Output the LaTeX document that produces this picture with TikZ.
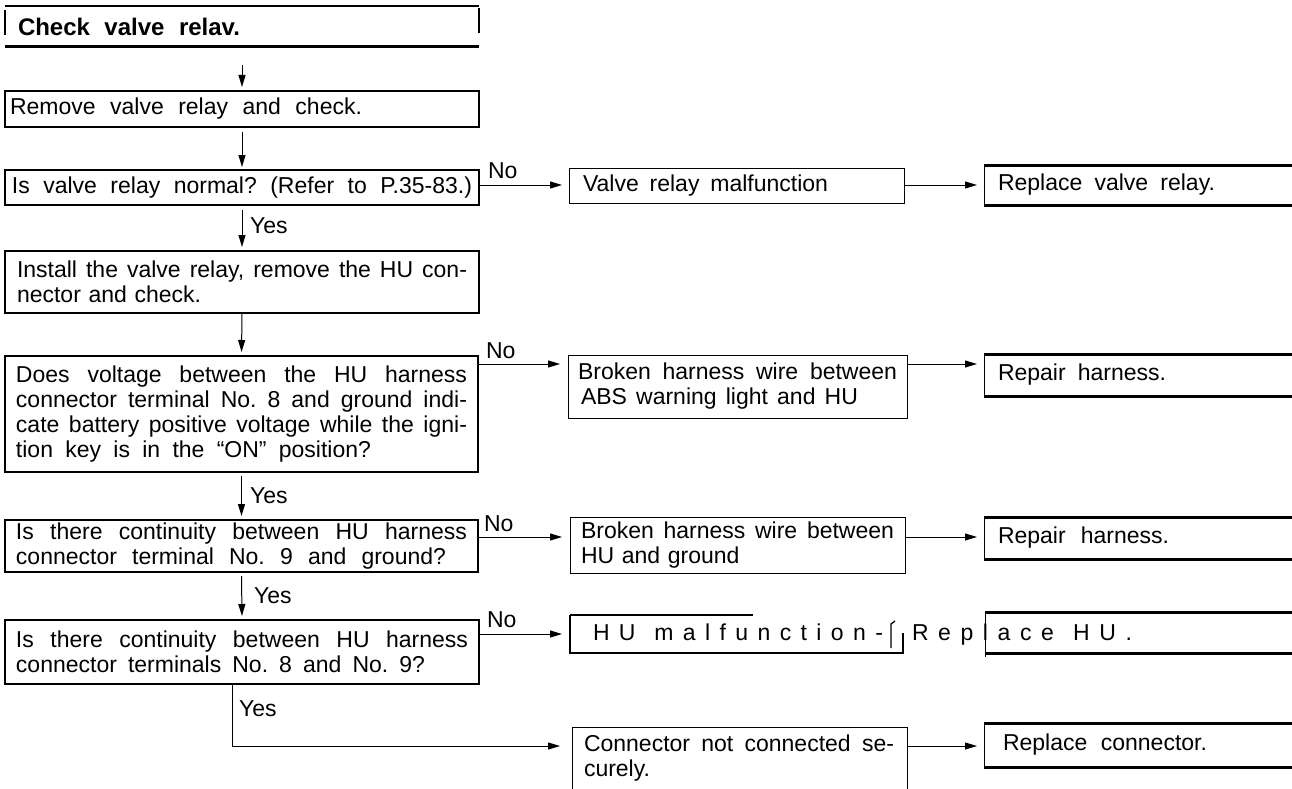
\documentclass[tikz,border=0pt]{standalone}
\usepackage{fontspec}
\setmainfont{Liberation Sans}
\usetikzlibrary{arrows.meta}
\newcommand\rboxlines[1]{%
  \draw[line width=3pt] (#1.north west) -- (#1.north east);
  \draw[line width=3pt] (#1.south west) -- (#1.south east);
  \draw[line width=1pt] (#1.north west) -- (#1.south west);}
\newcommand\jl[2]{\makebox[#1][s]{\frenchspacing\spaceskip=0pt\xspaceskip=0pt\relax #2}}
\begin{document}
\begin{tikzpicture}[x=1pt,y=-1pt,
  every node/.style={inner sep=0pt, outer sep=0pt},
  txt/.style={font=\fontsize{23}{25}\selectfont},
  lbox/.style={txt, draw, line width=1.3pt, anchor=north west, align=left, inner ysep=0pt},
  mbox/.style={txt, draw, line width=1pt, anchor=north west, align=left, inner ysep=0pt},
  rbox/.style={txt, anchor=north west, align=left, inner xsep=14pt, text width=281pt, minimum width=309pt},
  arr/.style={line width=1pt, -{Triangle[length=12pt,width=7pt]}},
  lbl/.style={txt, anchor=base west},
]
\useasboundingbox (0,0) rectangle (1292,789);

% row coordinates
\coordinate (y2) at (0,185);
\coordinate (y4) at (0,364);
\coordinate (y5) at (0,537);
\coordinate (y6) at (0,634);
\coordinate (y7) at (0,746);
\coordinate (c7) at (232,746);

% left column
\node[txt, font=\bfseries\fontsize{24}{26}\selectfont, anchor=north west, align=left,
      inner xsep=13pt, text width=448pt, minimum width=474pt, minimum height=41pt]
      (b0) at (5,6) {\jl{222pt}{Check valve relav.}};
\draw[line width=1.5pt] (b0.north west) -- (b0.north east);
\draw[line width=3pt] (b0.south west) -- (b0.south east);
\draw[line width=1.5pt] ([yshift=-4pt]b0.north west) -- ([yshift=-29pt]b0.north west);
\draw[line width=1.5pt] ([yshift=-2pt]b0.north east) -- ([yshift=-27pt]b0.north east);

\node[lbox, inner xsep=5pt, text width=464pt, minimum width=474pt, minimum height=36pt]
  (b1) at (5,91) {\jl{352pt}{Remove valve relay and check.}};
\node[lbox, inner xsep=7pt, text width=460pt, minimum width=474pt, minimum height=35pt]
  (b2) at (5,170) {\jl{460pt}{Is valve relay normal? (Refer to P.35-83.)}};
\node[lbox, inner xsep=12pt, text width=450pt, minimum width=474pt, minimum height=62pt]
  (b3) at (5,251) {\jl{450pt}{Install the valve relay, remove the HU con-}\\nector and check.};
\node[lbox, inner xsep=11pt, text width=451pt, minimum width=473pt, minimum height=116pt]
  (b4) at (5,356) {\jl{451pt}{Does voltage between the HU harness}\\
  \jl{451pt}{connector terminal No. 8 and ground indi-}\\
  \jl{451pt}{cate battery positive voltage while the igni-}\\
  \jl{355pt}{tion key is in the “ON” position?}};
\node[lbox, inner xsep=11pt, text width=451pt, minimum width=473pt, minimum height=52pt]
  (b5) at (5,520) {\jl{451pt}{Is there continuity between HU harness}\\
  \jl{430pt}{connector terminal No. 9 and ground?}};
\node[lbox, inner xsep=11pt, text width=452pt, minimum width=474pt, minimum height=64pt]
  (b6) at (5,620) {\jl{452pt}{Is there continuity between HU harness}\\
  \jl{409pt}{connector terminals No. 8 and No. 9?}};

% middle column
\node[mbox, inner xsep=14pt, text width=307pt, minimum width=335pt, minimum height=35pt]
  (m2) at (569,168) {\jl{245pt}{Valve relay malfunction}};
\node[mbox, inner xsep=10pt, text width=319pt, minimum width=339pt, minimum height=63pt]
  (m4) at (568,355) {\jl{319pt}{Broken harness wire between}\\\hspace*{3pt}\jl{277pt}{ABS warning light and HU}};
\node[mbox, inner xsep=11pt, text width=313pt, minimum width=335pt, minimum height=56pt]
  (m5) at (570,517) {\jl{313pt}{Broken harness wire between}\\HU and ground};
\node[mbox, inner xsep=12pt, text width=311pt, minimum width=335pt, minimum height=62pt]
  (m7) at (572,727) {\jl{310pt}{Connector not connected se-}\\curely.};

% HU malfunction row
\node[anchor=north west, minimum width=333pt, minimum height=38pt] (hu) at (570,615) {};
\draw[line width=1.3pt] (hu.north west) -- ([xshift=183pt]hu.north west);
\draw[line width=1.3pt] (hu.north west) -- (hu.south west) -- (hu.south east) -- ([yshift=20pt]hu.south east);
\node[lbl] (hut) at (593,640) {\jl{290pt}{H U\ \ m a l f u n c t i o n -}};
\draw[line width=1.3pt] (891,648) -- (891,624) -- (895,621);
\node[anchor=north west, minimum width=308pt, minimum height=41pt] (rhu) at (985,612) {};
\draw[line width=3pt] (rhu.north west) -- (rhu.north east);
\draw[line width=3pt] (rhu.south west) -- (rhu.south east);
\draw[line width=1pt] (rhu.north west) -- ([yshift=-4pt]rhu.south west);
\node[lbl] (rhut) at (912,640) {\jl{220pt}{R e p l a c e\ \ H U .}};

% right column
\node[rbox, minimum height=40pt] (r2) at (984,165) {\jl{217pt}{Replace valve relay.}};
\rboxlines{r2}
\node[rbox, minimum height=42pt] (r4) at (984,354) {\jl{168pt}{Repair harness.}};
\rboxlines{r4}
\node[rbox, minimum height=42pt] (r5) at (984,517) {\jl{171pt}{Repair\ \ \ harness.}};
\rboxlines{r5}
\node[rbox, minimum height=44pt, inner xsep=19pt, text width=271pt] (r7) at (984,723) {\jl{204pt}{Replace connector.}};
\rboxlines{r7}

% vertical connectors
\draw[arr, shorten <=18pt, shorten >=4pt] (b0.south) -- (b1.north);
\draw[arr, shorten <=5pt, shorten >=3pt] (b1.south) -- (b2.north);
\draw[arr, shorten <=5pt, shorten >=4pt] (b2.south) -- (b3.north);
\draw[arr, shorten >=4pt] (b3.south) -- (b4.north);
\draw[arr, shorten <=4pt, shorten >=4pt] (b4.south) -- (b5.north);
\draw[arr, shorten <=4pt, shorten >=4pt] (b5.south) -- (b6.north);
\draw[arr, shorten >=12pt] (b6.south -| c7) -- (c7) -- (m7.west |- c7);

% horizontal connectors
\draw[arr, shorten >=7pt] (b2.east |- y2) -- (m2.west |- y2);
\draw[arr, shorten >=7pt] (m2.east |- y2) -- (r2.west |- y2);
\draw[arr, shorten >=8pt] (b4.east |- y4) -- (m4.west |- y4);
\draw[arr, shorten >=7pt] (m4.east |- y4) -- (r4.west |- y4);
\draw[arr, shorten >=8pt] (b5.east |- y5) -- (m5.west |- y5);
\draw[arr, shorten >=7pt] (m5.east |- y5) -- (r5.west |- y5);
\draw[arr, shorten >=8pt] (b6.east |- y6) -- (hu.west |- y6);
\draw[arr, shorten >=7pt] (m7.east |- y7) -- (r7.west |- y7);

% labels
\node[lbl] (no2) at (488,178) {No};
\node[lbl] (no4) at (486,358) {No};
\node[lbl] (no5) at (484,531) {No};
\node[lbl] (no6) at (487,627) {No};
\node[lbl] (yes3) at (250,233) {Yes};
\node[lbl] (yes5) at (250,503) {Yes};
\node[lbl] (yes6) at (254,603) {Yes};
\node[lbl] (yes7) at (239,716) {Yes};
\end{tikzpicture}
\end{document}
